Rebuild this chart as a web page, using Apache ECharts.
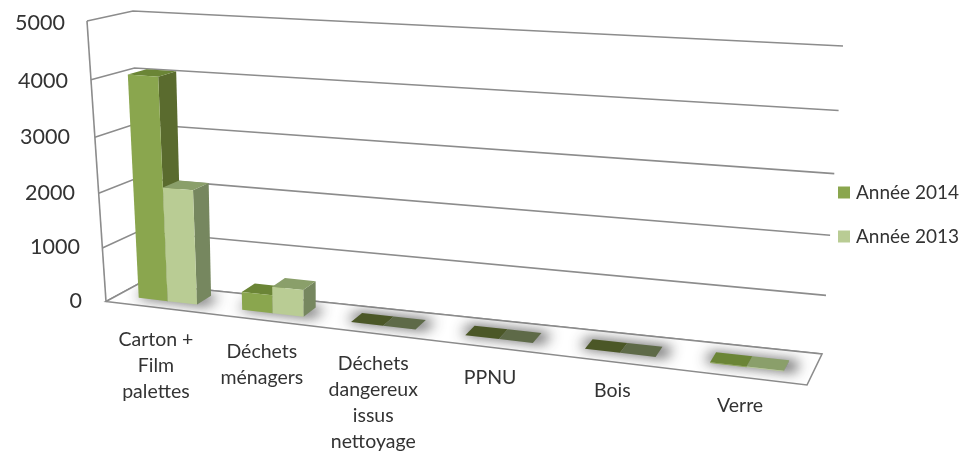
<!DOCTYPE html>
<html>
<head>
<meta charset="utf-8">
<style>html,body{margin:0;padding:0;background:#fff}#chart{width:959px;height:453px}</style>
<script src="https://cdn.jsdelivr.net/npm/echarts@6/dist/echarts.min.js"></script>
</head>
<body>
<div id="chart"></div>
<script>
var categories = ['Carton +\nFilm\npalettes', 'Déchets\nménagers', 'Déchets\ndangereux\nissus\nnettoyage', 'PPNU', 'Bois', 'Verre'];
var categoryIndex = [0, 1, 2, 3, 4, 5];
var tickValues = [0, 1000, 2000, 3000, 4000, 5000];
var year2014 = [4050, 330, 0, 0, 0, 15];
var year2013 = [2100, 490, 0, 0, 0, 15];

// corners of the painted 3D box: [x, y] on screen
var floorFL = [106, 301.5], floorFR = [807, 385], floorBL = [140, 283], floorBR = [822, 354];
var topFL = [87, 21], topFR = [840, 68], topBL = [133, 11], topBR = [843, 46];

function mix(a, b, k) {
    return [a[0] + (b[0] - a[0]) * k, a[1] + (b[1] - a[1]) * k];
}

// grid pixel (from the axes) + depth (0 front, 1 back wall) -> screen pixel
function project(cs, px, py, d) {
    var s = (px - cs.x) / cs.width;
    var t = (cs.y + cs.height - py) / cs.height;
    var f = s - 0.14 * s * (1 - s);
    var h = t - 0.06 * t * (1 - t);
    var low = mix(mix(floorFL, floorFR, f), mix(floorBL, floorBR, f), d);
    var high = mix(mix(topFL, topFR, f), mix(topBL, topBR, f), d);
    return mix(low, high, h);
}

function backDepth(cs, px) {
    return 0.78 - 0.12 * (px - cs.x) / cs.width;
}

function frameItem(params, api) {
    var cs = params.coordSys;
    var py = api.coord([0, api.value(0)])[1];
    var left = cs.x, right = cs.x + cs.width;
    var lineStyle = {fill: 'none', stroke: '#8c8c8c', lineWidth: 1.6};
    var children = [{
        type: 'polyline',
        shape: {points: [project(cs, left, py, 0), project(cs, left, py, 1), project(cs, right, py, 1)]},
        style: lineStyle
    }];
    if (api.value(0) === 0) {
        children.push({
            type: 'polygon',
            shape: {points: [project(cs, left, py, 0), project(cs, right, py, 0), project(cs, right, py, 1), project(cs, left, py, 1)]},
            style: {fill: '#fff', stroke: '#8c8c8c', lineWidth: 1.6}
        });
        children.push({
            type: 'line',
            shape: {
                x1: topFL[0], y1: topFL[1],
                x2: floorFL[0], y2: floorFL[1]
            },
            style: {stroke: '#8c8c8c', lineWidth: 1.6}
        });
    }
    return {type: 'group', children: children};
}

function floorClip(cs) {
    var y0 = cs.y + cs.height, x0 = cs.x, x1 = cs.x + cs.width;
    return {
        type: 'polygon',
        shape: {points: [project(cs, x0, y0, 0), project(cs, x1, y0, 0), project(cs, x1, y0, 1), project(cs, x0, y0, 1)]}
    };
}

// only the blur is wanted, so the shape itself sits off the canvas
var shadowShift = 2000;

function shadowItem(params, api) {
    var cs = params.coordSys;
    var base = api.coord([api.value(0), 0]);
    var w = api.size([1, 0])[0] * 0.285;
    var b = backDepth(cs, base[0]);
    var pts = [
        project(cs, base[0] - w - 5, base[1], 0.36),
        project(cs, base[0] + w + 10, base[1], 0.36),
        project(cs, base[0] + w + 10, base[1], b),
        project(cs, base[0] - w - 5, base[1], b)
    ].map(function (q) { return [q[0] - shadowShift, q[1]]; });
    return {
        type: 'group',
        clipPath: floorClip(cs),
        children: [{
            type: 'polygon',
            shape: {points: pts},
            style: {fill: '#000', shadowBlur: 13, shadowOffsetX: shadowShift, shadowColor: 'rgba(40,40,40,0.85)'}
        }]
    };
}

function barRenderer(side, colors) {
    return function (params, api) {
        var cs = params.coordSys;
        var val = api.value(1);
        var base = api.coord([api.value(0), 0]);
        var top = api.coord([api.value(0), val]);
        var w = api.size([1, 0])[0] * 0.285;
        var x0 = side < 0 ? base[0] - w : base[0];
        var x1 = x0 + w;
        var d0 = 0.33, d1 = backDepth(cs, base[0]);
        function p(x, y, d) { return project(cs, x, y, d); }
        return {
            type: 'group',
            children: [{
                type: 'polygon',
                shape: {points: [p(x1, base[1], d0), p(x1, base[1], d1), p(x1, top[1], d1), p(x1, top[1], d0)]},
                style: {fill: colors.side}
            }, {
                type: 'polygon',
                shape: {points: [p(x0, top[1], d0), p(x1, top[1], d0), p(x1, top[1], d1), p(x0, top[1], d1)]},
                style: {fill: val === 0 ? colors.empty : colors.top}
            }, {
                type: 'polygon',
                shape: {points: [p(x0, base[1], d0), p(x1, base[1], d0), p(x1, top[1], d0), p(x0, top[1], d0)]},
                style: {fill: colors.front}
            }]
        };
    };
}

function labelItem(params, api) {
    var cs = params.coordSys;
    var base = api.coord([api.value(0), 0]);
    var p = project(cs, base[0], base[1], 0);
    var s = (base[0] - cs.x) / cs.width;
    return {
        type: 'text',
        style: {
            text: categories[api.value(0)],
            x: p[0] - 1,
            y: p[1] + 20 - 5 * s,
            align: 'center',
            verticalAlign: 'top',
            fontFamily: 'Lato',
            fontSize: 19.5,
            lineHeight: 25.7,
            fill: '#333'
        }
    };
}

function pairs(values) {
    return values.map(function (v, i) { return [categoryIndex[i], v]; });
}

// tick labels slide along the slanted front edge
var tickPadRight = [0, 2, 7, 12, 14, 17];
var tickPadTop = [0, 4, 8, 8, 8, 4];
var tickRich = {};
tickValues.forEach(function (v, i) {
    tickRich['t' + i] = {
        padding: [tickPadTop[i], tickPadRight[i], 0, 0],
        fontFamily: 'Lato', fontSize: 21.5, color: '#333'
    };
});

var chart = echarts.init(document.getElementById('chart'));
var option = {
    animation: false,
    backgroundColor: '#fff',
    grid: {left: 87, right: 137, top: 21, bottom: 152},
    legend: {
        orient: 'vertical',
        left: 833,
        top: 178,
        itemWidth: 12,
        itemHeight: 12,
        itemGap: 25,
        selectedMode: false,
        icon: 'rect',
        textStyle: {fontFamily: 'Lato', fontSize: 19, color: '#333', padding: [0, 0, 0, 1]},
        data: ['Année 2014', 'Année 2013']
    },
    xAxis: {
        type: 'category',
        data: categories,
        axisLine: {show: false},
        axisTick: {show: false},
        axisLabel: {show: false}
    },
    yAxis: {
        type: 'value',
        min: 0,
        max: 5000,
        interval: 1000,
        axisLine: {show: false},
        axisTick: {show: false},
        splitLine: {show: false},
        axisLabel: {
            margin: 5,
            rich: tickRich,
            formatter: function (v) {
                return '{t' + tickValues.indexOf(v) + '|' + v + '}';
            }
        }
    },
    series: [
        {
            type: 'custom', name: 'frame', clip: false, silent: true, z: 1,
            renderItem: frameItem,
            encode: {y: 0},
            data: tickValues.slice().reverse().map(function (v) { return [v]; })
        },
        {
            type: 'custom', name: 'shadow', clip: false, silent: true, z: 2,
            renderItem: shadowItem,
            encode: {x: 0},
            data: categoryIndex.map(function (i) { return [i]; })
        },
        {
            type: 'custom', name: 'Année 2014', clip: false, z: 3,
            itemStyle: {color: '#8aa64e'},
            renderItem: barRenderer(-1, {front: '#8aa64e', side: '#5a6b2e', top: '#6b8536', empty: '#4b5727'}),
            encode: {x: 0, y: 1},
            data: pairs(year2014)
        },
        {
            type: 'custom', name: 'Année 2013', clip: false, z: 4,
            itemStyle: {color: '#b9cc94'},
            renderItem: barRenderer(1, {front: '#b9cc94', side: '#76875f', top: '#8a9f6a', empty: '#5e6a48'}),
            encode: {x: 0, y: 1},
            data: pairs(year2013)
        },
        {
            type: 'custom', name: 'labels', clip: false, silent: true, z: 5,
            renderItem: labelItem,
            encode: {x: 0},
            data: categoryIndex.map(function (i) { return [i]; })
        }
    ]
};
chart.setOption(option);
</script>
</body>
</html>
